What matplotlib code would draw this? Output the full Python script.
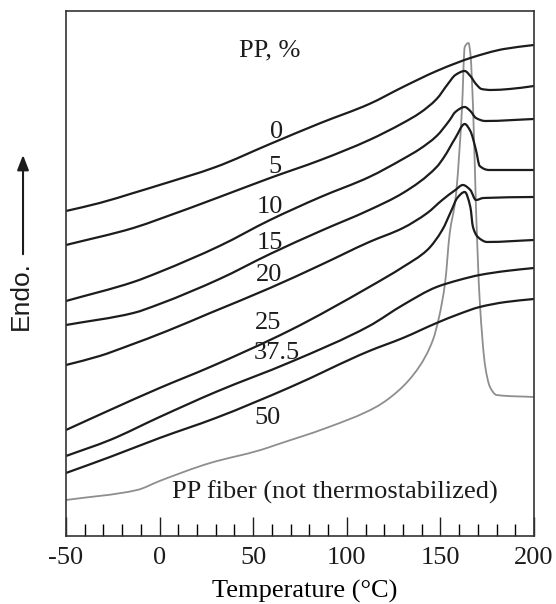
import numpy as np
import matplotlib
matplotlib.use("Agg")
import matplotlib.pyplot as plt
from matplotlib.path import Path
from matplotlib.patches import PathPatch

plt.rcParams['font.family'] = ['Liberation Serif', 'DejaVu Serif']
plt.rcParams['axes.unicode_minus'] = False

# DSC traces, heat flow in arbitrary units (endo up), temperature in deg C
t_0 = [-50, -32, -14, 0, 30, 59, 86, 112, 130, 148, 160, 166, 184, 200]
h_0 = [325, 333, 343, 351, 369, 392, 413, 432, 449, 465, 474, 478, 487, 491]

t_5 = [-50, -14, 0, 32, 59, 86, 112, 130, 139, 148, 154, 158, 163, 166, 169, 172, 177, 187, 200]
h_5 = [291, 308, 317, 339, 358, 376, 396, 413, 423, 437, 452, 461, 465, 460, 452, 447, 446, 447, 450]

t_10 = [-50, -14, 0, 32, 59, 86, 112, 130, 139, 148, 155, 158, 163, 166, 169, 174, 200]
h_10 = [235, 254, 264, 290, 316, 339, 359, 377, 387, 400, 416, 424, 429, 425, 418, 415, 417]

t_15 = [-50, -14, 0, 32, 59, 86, 112, 130, 148, 152, 158, 163, 166, 169, 171, 176, 200]
h_15 = [211, 223, 232, 257, 282, 305, 326, 343, 369, 379, 398, 412, 405, 386, 370, 366, 366]

t_20 = [-50, -32, -17, 4, 27, 59, 86, 112, 130, 143, 151, 158, 162, 166, 169, 173, 200]
h_20 = [171, 180, 190, 205, 223, 248, 271, 294, 308, 323, 336, 346, 351, 346, 336, 338, 339]

t_25 = [-50, -26.5, 0, 27, 70, 112, 130, 143, 151, 156, 159, 163, 166, 167.4, 170, 175, 200]
h_25 = [106, 126, 148, 169, 206, 249, 269, 286, 306, 326, 338, 344, 329, 309, 299, 294, 296]

t_375 = [-50, -26.5, 0, 30, 70, 112, 130, 148, 160, 171, 185, 200]
h_375 = [80, 96, 119, 144, 174, 210, 231, 249, 256, 261, 265, 268]

t_50 = [-50, -26.5, 0, 30, 70, 112, 130, 148, 160, 171, 185, 200]
h_50 = [63, 79, 98, 118, 149, 185, 198, 213, 222, 229, 234, 237]

t_fiber = [-50, -12, 0, 27, 54, 62, 89, 115.6, 128, 138.6, 146, 149.3, 152.5, 155, 158,
           161.5, 163, 165, 166, 167.5, 169, 171, 174, 176.5, 180, 200]
h_fiber = [36, 46, 55, 73, 86, 91, 108, 129, 146, 169, 196, 219, 253, 303, 336,
           426, 489, 493, 483, 426, 329, 236, 169, 149, 141, 139]

pp_labels = ["0", "5", "10", "15", "20", "25", "37.5", "50"]
label_t = [62.7, 61.6, 59, 59, 58.4, 57.9, 62.7, 57.9]
label_h = [404, 369, 329, 293, 261, 213, 183, 118]

curves = [(t_0, h_0), (t_5, h_5), (t_10, h_10), (t_15, h_15),
          (t_20, h_20), (t_25, h_25), (t_375, h_375), (t_50, h_50)]


def smooth_path(t, h):
    # monotone cubic (pchip-style) segments drawn as bezier curves
    x = np.asarray(t, float)
    y = np.asarray(h, float)
    dx = np.diff(x)
    d = np.diff(y) / dx
    m = np.zeros_like(y)
    m[0], m[-1] = d[0], d[-1]
    for k in range(1, len(x) - 1):
        if d[k - 1] * d[k] > 0:
            w1 = 2 * dx[k] + dx[k - 1]
            w2 = dx[k] + 2 * dx[k - 1]
            m[k] = (w1 + w2) / (w1 / d[k - 1] + w2 / d[k])
    verts = [(x[0], y[0])]
    codes = [Path.MOVETO]
    for k in range(len(x) - 1):
        s = dx[k] / 3
        verts += [(x[k] + s, y[k] + m[k] * s),
                  (x[k + 1] - s, y[k + 1] - m[k + 1] * s),
                  (x[k + 1], y[k + 1])]
        codes += [Path.CURVE4] * 3
    return Path(verts, codes)


fig = plt.figure(figsize=(5.56, 6.04), dpi=100)
ax = fig.add_axes([0.1187, 0.1126, 0.8417, 0.8692])

ax.add_patch(PathPatch(smooth_path(t_fiber, h_fiber), fill=False,
                       edgecolor='#8e8e8e', lw=1.3))
for t, h in curves:
    ax.add_patch(PathPatch(smooth_path(t, h), fill=False,
                           edgecolor='#1c1c1c', lw=1.6))

fs = 19
for lab, x, y in zip(pp_labels, label_t, label_h):
    ax.text(x, y, lab, ha='center', va='center', fontsize=fs, color='#1c1c1c')
ax.text(59, 486, "PP, %", ha='center', va='center', fontsize=fs, color='#1c1c1c')
ax.text(93.7, 44, "PP fiber (not thermostabilized)", ha='center', va='center',
        fontsize=fs, color='#1c1c1c')

ax.set_xlim(-50, 200)
ax.set_ylim(0, 525)
ax.set_xticks([-50, 0, 50, 100, 150, 200])
ax.set_xticks(np.arange(-40, 200, 10), minor=True)
ax.set_yticks([])
ax.tick_params(axis='x', which='major', direction='in', length=14, width=1,
               labelsize=fs, pad=8, colors='#1c1c1c')
ax.tick_params(axis='x', which='minor', direction='in', length=8.5, width=1)
for s in ax.spines.values():
    s.set_linewidth(1.2)
    s.set_color('#333333')

ax.set_xlabel("Temperature (°C)", fontsize=fs)
ax.xaxis.set_label_coords(0.511, -0.083)

# endothermic direction marker
fig.text(0.037, 0.51, "Endo.", rotation=90, ha='center', va='center',
         fontsize=19, family=['Liberation Sans Narrow', 'Liberation Sans'],
         color='#1c1c1c')
ax.annotate("", xy=(0.0414, 0.748), xytext=(0.0414, 0.5745), xycoords='figure fraction',
            textcoords='figure fraction',
            arrowprops=dict(arrowstyle='-|>,head_length=0.9,head_width=0.35',
                            color='#1c1c1c', lw=1.5))

fig.savefig("out.png", dpi=100)
